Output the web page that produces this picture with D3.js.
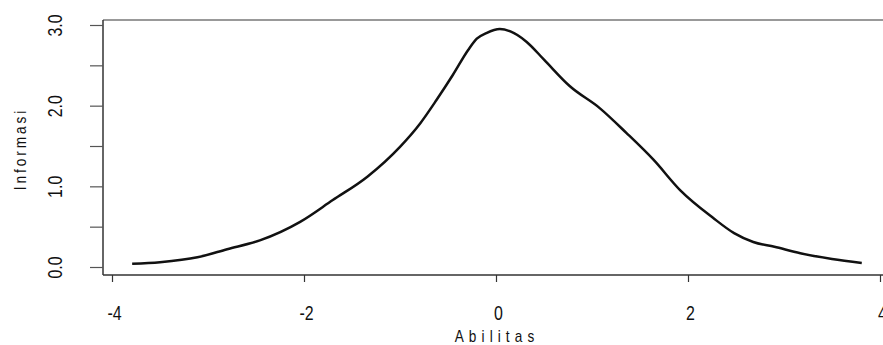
<!DOCTYPE html>
<html>
<head>
<meta charset="utf-8">
<script src="https://cdn.jsdelivr.net/npm/d3@7"></script>
<style>
  body { margin: 0; background: #fff; }
  text { font-family: "Liberation Sans", Arial, sans-serif; fill: #111; }
</style>
</head>
<body>
<div id="chart"></div>
<script>
// information curve
const abilitas = [-3.79, -3.5, -3.11, -2.8, -2.46, -2.04, -1.7, -1.34, -1.0, -0.79, -0.62, -0.45, -0.29, -0.2, -0.1, 0.04, 0.15, 0.32, 0.5, 0.77, 1.08, 1.36, 1.64, 1.92, 2.26, 2.48, 2.68, 2.9, 3.17, 3.5, 3.81];
const informasi = [0.04, 0.06, 0.12, 0.22, 0.33, 0.56, 0.83, 1.12, 1.49, 1.78, 2.07, 2.38, 2.69, 2.83, 2.9, 2.95, 2.92, 2.79, 2.57, 2.24, 1.97, 1.66, 1.33, 0.95, 0.61, 0.42, 0.31, 0.25, 0.17, 0.1, 0.05];

const xTicks = [-4, -2, 0, 2, 4];
const yTicks = [0, 0.5, 1, 1.5, 2, 2.5, 3];
const yLabels = ["0.0", "", "1.0", "", "2.0", "", "3.0"];

const width = 883, height = 345;
const box = { left: 103, top: 20, bottom: 275 };
const narrow = 0.76; // no narrow font installed, squeeze the glyphs instead

const svg = d3.select("#chart")
  .append("svg")
    .attr("width", width)
    .attr("height", height);

const x = d3.scaleLinear().domain([-4, 4]).range([112, 880]);
const y = d3.scaleLinear().domain([0, 3]).range([267, 25]);

// frame (right side falls outside the picture)
svg.append("line")
  .attr("x1", box.left).attr("x2", width + 10)
  .attr("y1", box.top).attr("y2", box.top)
  .attr("stroke", "#777").attr("stroke-width", 1.5);
svg.append("line")
  .attr("x1", box.left).attr("x2", box.left)
  .attr("y1", box.top).attr("y2", box.bottom)
  .attr("stroke", "#333").attr("stroke-width", 1.5);
svg.append("line")
  .attr("x1", box.left).attr("x2", width + 10)
  .attr("y1", box.bottom).attr("y2", box.bottom)
  .attr("stroke", "#333").attr("stroke-width", 1.5);

// y axis
const yAxis = svg.append("g")
  .attr("transform", "translate(" + box.left + ",0)")
  .call(d3.axisLeft(y)
    .tickValues(yTicks)
    .tickSize(13)
    .tickFormat((d, i) => yLabels[i]));
yAxis.select(".domain").remove();
yAxis.selectAll(".tick line").attr("stroke", "#555").attr("stroke-width", 1.2);
yAxis.selectAll(".tick text")
  .attr("x", 0).attr("dy", null)
  .attr("transform", "translate(-41,0) rotate(-90) scale(" + narrow + ",1)")
  .attr("text-anchor", "middle")
  .style("font-size", "21px");

// x axis
const xAxis = svg.append("g")
  .attr("transform", "translate(0," + box.bottom + ")")
  .call(d3.axisBottom(x)
    .tickValues(xTicks)
    .tickSize(7)
    .tickFormat(d3.format("d")));
xAxis.select(".domain").remove();
xAxis.selectAll(".tick line").attr("stroke", "#333").attr("stroke-width", 1.2);
xAxis.selectAll(".tick text")
  .attr("y", 0).attr("dy", null)
  .attr("transform", "translate(2,45) scale(" + narrow + ",1)")
  .style("font-size", "21px")
  .text(d => d < 0 ? "-" + Math.abs(d) : d);

// axis titles
svg.append("text")
  .attr("transform", "translate(497,342) scale(0.85,1)")
  .attr("text-anchor", "middle")
  .style("font-size", "16px")
  .style("letter-spacing", "6px")
  .text("Abilitas");

svg.append("text")
  .attr("transform", "translate(26,149) rotate(-90) scale(0.85,1)")
  .attr("text-anchor", "middle")
  .style("font-size", "16px")
  .style("letter-spacing", "3.5px")
  .text("Informasi");

// curve
const points = abilitas.map((a, i) => [a, informasi[i]]);
svg.append("path")
  .datum(points)
  .attr("fill", "none")
  .attr("stroke", "#111")
  .attr("stroke-width", 2.5)
  .attr("stroke-linejoin", "round")
  .attr("d", d3.line()
    .x(d => x(d[0]))
    .y(d => y(d[1]))
    .curve(d3.curveMonotoneX));
</script>
</body>
</html>
